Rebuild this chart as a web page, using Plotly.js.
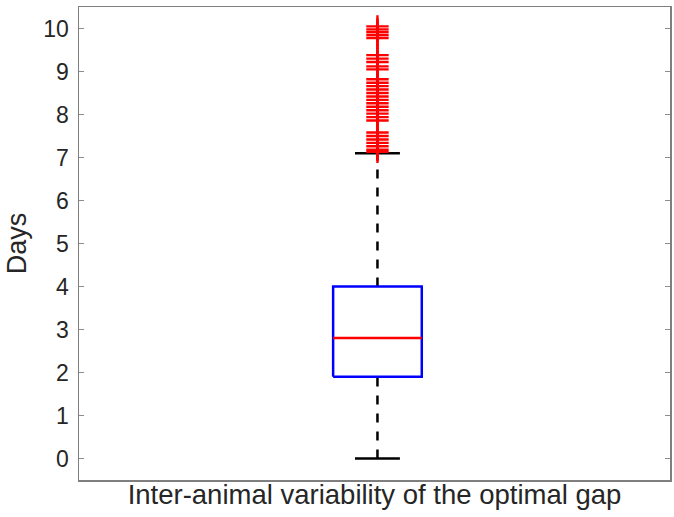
<!DOCTYPE html>
<html>
<head>
<meta charset="utf-8">
<script src="https://cdn.plot.ly/plotly-3.0.1.min.js"></script>
<style>html,body{margin:0;padding:0;background:#fff;}#chart{width:674px;height:517px;}</style>
</head>
<body>
<div id="chart"></div>
<script>
// Box statistics (days)
var category = "Inter-animal variability of the optimal gap";
var boxPosition = [1];
var lowerWhisker = [0];
var q1 = [1.9];
var median = [2.8];
var q3 = [4.0];
var upperWhisker = [7.1];
var outliers = [10.05, 9.98, 9.92, 9.85, 9.78,
  9.38, 9.30, 9.22, 9.12, 9.05,
  8.82, 8.74, 8.66, 8.58, 8.50, 8.42, 8.34, 8.26, 8.18, 8.10, 8.02, 7.94, 7.86,
  7.58, 7.50, 7.42, 7.34, 7.26, 7.18, 7.13];
var yTicks = [0,1,2,3,4,5,6,7,8,9,10];

var boxHalf = 0.075, capHalf = 0.038;
var c = boxPosition[0];
var traces = [];
// whiskers (dashed)
traces.push({x:[c,c], y:[q3[0], upperWhisker[0]], mode:'lines', line:{color:'black', width:2.5, dash:'9px,9px'}, hoverinfo:'skip'});
traces.push({x:[c,c], y:[lowerWhisker[0], q1[0]], mode:'lines', line:{color:'black', width:2.5, dash:'9px,9px'}, hoverinfo:'skip'});
// caps
traces.push({x:[c-capHalf, c+capHalf], y:[upperWhisker[0], upperWhisker[0]], mode:'lines', line:{color:'black', width:2.5}, hoverinfo:'skip'});
traces.push({x:[c-capHalf, c+capHalf], y:[lowerWhisker[0], lowerWhisker[0]], mode:'lines', line:{color:'black', width:2.5}, hoverinfo:'skip'});
// box
traces.push({x:[c-boxHalf, c+boxHalf, c+boxHalf, c-boxHalf, c-boxHalf], y:[q1[0], q1[0], q3[0], q3[0], q1[0]], mode:'lines', line:{color:'#0000ff', width:2.5}, hoverinfo:'skip'});
// median
traces.push({x:[c-boxHalf, c+boxHalf], y:[median[0], median[0]], mode:'lines', line:{color:'#ff0000', width:2.5}, hoverinfo:'skip'});
// outliers
traces.push({x:outliers.map(function(){return c;}), y:outliers, mode:'markers',
  marker:{symbol:'cross-thin', size:16, line:{color:'#ff0000', width:2.4}, color:'#ff0000'}});

var layout = {
  width:674, height:517,
  margin:{l:79, r:4, t:7, b:37},
  paper_bgcolor:'#fff', plot_bgcolor:'#fff',
  showlegend:false,
  font:{family:'Liberation Sans, Arial, sans-serif', color:'#262626'},
  xaxis:{range:[0.495,1.495], showticklabels:false, ticks:'', showgrid:false, zeroline:false,
    showline:true, linecolor:'#7f7f7f', linewidth:1.5, mirror:true,
    title:{text:category, font:{size:27.5, color:'#262626'}, standoff:4}},
  yaxis:{range:[-0.5,10.5], tickvals:yTicks, ticktext:yTicks.map(String), ticks:'inside', ticklen:5, tickcolor:'#8c8c8c', tickwidth:1,
    showgrid:false, zeroline:false, showline:true, linecolor:'#7f7f7f', linewidth:1.5, mirror:'ticks',
    tickfont:{size:23, color:'#262626'}, ticklabelstandoff:4,
    title:{text:'Days', font:{size:27, color:'#262626'}, standoff:9}}
};
Plotly.newPlot('chart', traces, layout, {displayModeBar:false, staticPlot:true});
</script>
</body>
</html>
